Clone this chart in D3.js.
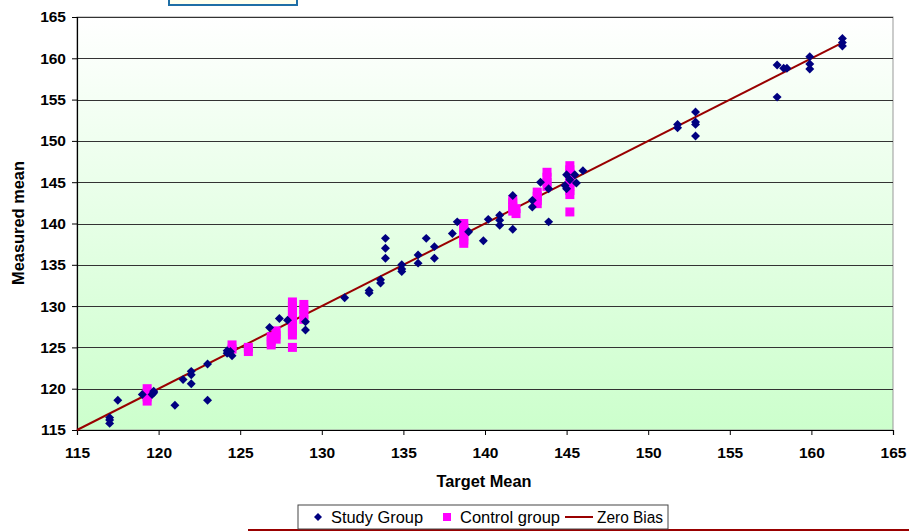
<!DOCTYPE html>
<html>
<head>
<meta charset="utf-8">
<script src="https://cdn.jsdelivr.net/npm/d3@7"></script>
<style>
  body { margin: 0; background: #fff; }
  svg { display: block; font-family: "Liberation Sans", Arial, sans-serif; }
</style>
</head>
<body>
<div id="chart"></div>
<script>
// ---------------------------------------------------------------------------
// data
// ---------------------------------------------------------------------------

// study group points [target, measured]
const studyGroup = [
  [117, 115.8], [117, 116.2], [117, 116.5], [117.5, 118.6],
  [119, 119.3], [119.6, 119.3], [119.7, 119.5], [119.7, 119.7],
  [121, 118], [121.5, 121.1], [122, 122.1], [122, 121.7], [122, 120.6],
  [123, 123], [123, 118.6],
  [124.2, 124.3], [124.2, 124.6], [124.5, 124], [124.4, 124.5],
  [126.8, 127.4], [127.4, 128.5], [127.9, 128.3], [129, 128.1], [129, 127.1],
  [131.4, 131], [132.9, 131.9], [132.9, 131.6], [133.6, 133.2], [133.6, 132.8],
  [133.9, 138.2], [133.9, 137], [133.9, 135.8],
  [134.9, 135], [134.9, 134.5], [134.9, 134.2],
  [135.9, 136.2], [135.9, 135.2], [136.4, 138.2], [136.9, 137.2], [136.9, 135.8],
  [138, 138.8], [138.3, 140.2], [139, 139], [139.9, 137.9],
  [140.2, 140.5], [140.9, 141], [140.9, 140.4], [140.9, 139.8],
  [141.7, 139.3], [141.7, 143.4], [142.9, 142.8], [142.9, 142],
  [143.4, 145], [143.9, 144.2], [143.9, 140.2],
  [145, 145.9], [145.2, 145.3], [145.5, 145.9], [145.6, 144.9], [145, 144.2], [144.9, 144.6],
  [146, 146.4],
  [151.8, 152], [151.8, 151.6], [152.9, 153.5], [152.9, 152.3], [152.9, 152], [152.9, 150.6],
  [157.9, 159.2], [158.3, 158.8], [158.5, 158.8], [157.9, 155.3],
  [159.9, 160.2], [159.9, 159.3], [159.9, 158.7],
  [161.9, 162.4], [161.9, 161.9], [161.9, 161.5]
];

// control group points [target, measured]
const controlGroup = [
  [119.3, 120], [119.3, 119.5], [119.3, 119], [119.3, 118.5],
  [124.5, 125.3], [124.5, 124.8],
  [125.5, 125], [125.5, 124.5],
  [126.9, 125.3], [126.9, 125.8], [126.9, 126.3],
  [127.2, 126], [127.2, 126.5], [127.2, 127],
  [128.2, 130.5], [128.2, 130], [128.2, 129.5], [128.2, 129], [128.2, 128.5],
  [128.2, 128], [128.2, 127.5], [128.2, 127], [128.2, 126.5], [128.2, 125],
  [128.9, 130.2], [128.9, 129.6], [128.9, 129], [128.9, 128.4],
  [138.7, 140], [138.7, 139.5], [138.7, 139], [138.7, 138.5], [138.7, 138], [138.7, 137.6],
  [141.7, 142.9], [141.7, 142.5], [141.7, 142], [141.7, 141.5],
  [141.9, 141.8], [141.9, 141.2],
  [143.2, 143.8], [143.2, 143.3], [143.2, 142.8], [143.2, 142.4],
  [143.8, 146.2], [143.8, 145.6], [143.8, 145], [143.8, 144.5],
  [145.2, 147], [145.2, 146.5], [145.2, 146], [145.2, 145.5], [145.2, 145],
  [145.2, 144.5], [145.2, 144], [145.2, 143.5], [145.2, 141.4]
];

// zero bias line end points
const zeroBias = [[115, 115], [162, 162]];

const xTicks = [115, 120, 125, 130, 135, 140, 145, 150, 155, 160, 165];
const yTicks = [115, 120, 125, 130, 135, 140, 145, 150, 155, 160, 165];

const legendItems = ["Study Group", "Control group", "Zero Bias"];

// ---------------------------------------------------------------------------
// drawing
// ---------------------------------------------------------------------------

const width = 909, height = 532;
const margin = { left: 77, right: 16, top: 17, bottom: 102 };
const plotW = width - margin.left - margin.right;
const plotH = height - margin.top - margin.bottom;

const svg = d3.select("#chart").append("svg")
  .attr("width", width)
  .attr("height", height);

const defs = svg.append("defs");
const grad = defs.append("linearGradient")
  .attr("id", "bg").attr("x1", 0).attr("y1", 0).attr("x2", 0).attr("y2", 1);
grad.append("stop").attr("offset", "0%").attr("stop-color", "#ffffff");
grad.append("stop").attr("offset", "100%").attr("stop-color", "#ccffcc");

// cropped title box at top
svg.append("rect")
  .attr("x", 169).attr("y", -10).attr("width", 128).attr("height", 15)
  .attr("fill", "#ffffee").attr("stroke", "#1f6ea6").attr("stroke-width", 2);

const x = d3.scaleLinear().domain([115, 165]).range([0, plotW]);
const y = d3.scaleLinear().domain([115, 165]).range([plotH, 0]);

const g = svg.append("g")
  .attr("transform", `translate(${margin.left},${margin.top})`);

g.append("rect")
  .attr("width", plotW).attr("height", plotH)
  .attr("fill", "url(#bg)")
  .attr("stroke", "#999").attr("stroke-width", 1);

// horizontal gridlines
g.append("g")
  .selectAll("line")
  .data(yTicks)
  .join("line")
    .attr("x1", 0).attr("x2", plotW)
    .attr("y1", d => Math.round(y(d)) + 0.5).attr("y2", d => Math.round(y(d)) + 0.5)
    .attr("stroke", "#333").attr("stroke-width", 1.2);

// axes
const xAxis = g.append("g")
  .attr("transform", `translate(0,${plotH})`)
  .call(d3.axisBottom(x).tickValues(xTicks).tickSize(5).tickPadding(12));
const yAxis = g.append("g")
  .call(d3.axisLeft(y).tickValues(yTicks).tickSize(5).tickPadding(6));

[xAxis, yAxis].forEach(a => {
  a.selectAll(".domain").attr("stroke", "#000").attr("stroke-width", 1.2);
  a.selectAll(".tick line").attr("stroke", "#000");
  a.selectAll("text")
    .attr("fill", "#000")
    .style("font-size", "15.5px")
    .style("font-weight", "bold");
});

// zero bias line
const line = d3.line().x(d => x(d[0])).y(d => y(d[1]));
g.append("path")
  .datum(zeroBias)
  .attr("d", line)
  .attr("fill", "none")
  .attr("stroke", "#990000")
  .attr("stroke-width", 2);

// control group squares
g.append("g")
  .selectAll("rect")
  .data(controlGroup)
  .join("rect")
    .attr("x", d => x(d[0]) - 4.5)
    .attr("y", d => y(d[1]) - 4.5)
    .attr("width", 9).attr("height", 9)
    .attr("fill", "#ff00ff");

// study group diamonds
const diamond = d3.symbol().type(d3.symbolSquare).size(40);
g.append("g")
  .selectAll("path")
  .data(studyGroup)
  .join("path")
    .attr("d", diamond)
    .attr("transform", d => `translate(${x(d[0])},${y(d[1])}) rotate(45)`)
    .attr("fill", "#000080");

// axis titles
svg.append("text")
  .attr("x", 484)
  .attr("y", 487)
  .attr("text-anchor", "middle")
  .attr("textLength", 95).attr("lengthAdjust", "spacingAndGlyphs")
  .style("font-size", "16px").style("font-weight", "bold")
  .text("Target Mean");

svg.append("text")
  .attr("transform", `translate(24,223) rotate(-90)`)
  .attr("text-anchor", "middle")
  .attr("textLength", 124).attr("lengthAdjust", "spacingAndGlyphs")
  .style("font-size", "16px").style("font-weight", "bold")
  .text("Measured mean");

// bottom rule below the legend
svg.append("line")
  .attr("x1", 248).attr("x2", width)
  .attr("y1", 530).attr("y2", 530)
  .attr("stroke", "#990000").attr("stroke-width", 2);

// legend
const legend = svg.append("g").attr("transform", "translate(298,505)");
legend.append("rect")
  .attr("width", 370).attr("height", 24)
  .attr("fill", "#fff").attr("stroke", "#444").attr("stroke-width", 1);

legend.append("path")
  .attr("d", d3.symbol().type(d3.symbolSquare).size(32))
  .attr("transform", "translate(20,12) rotate(45)")
  .attr("fill", "#000080");
legend.append("rect")
  .attr("x", 145).attr("y", 8).attr("width", 8).attr("height", 8)
  .attr("fill", "#ff00ff");
legend.append("line")
  .attr("x1", 267).attr("x2", 295)
  .attr("y1", 12).attr("y2", 12)
  .attr("stroke", "#990000").attr("stroke-width", 2);

const textX = [33, 162, 299];
const textW = [92, 100, 66];
legend.selectAll("text.item")
  .data(legendItems)
  .join("text")
    .attr("class", "item")
    .attr("x", (d, i) => textX[i])
    .attr("y", 18)
    .attr("textLength", (d, i) => textW[i])
    .attr("lengthAdjust", "spacingAndGlyphs")
    .style("font-size", "16px")
    .text(d => d);
</script>
</body>
</html>
